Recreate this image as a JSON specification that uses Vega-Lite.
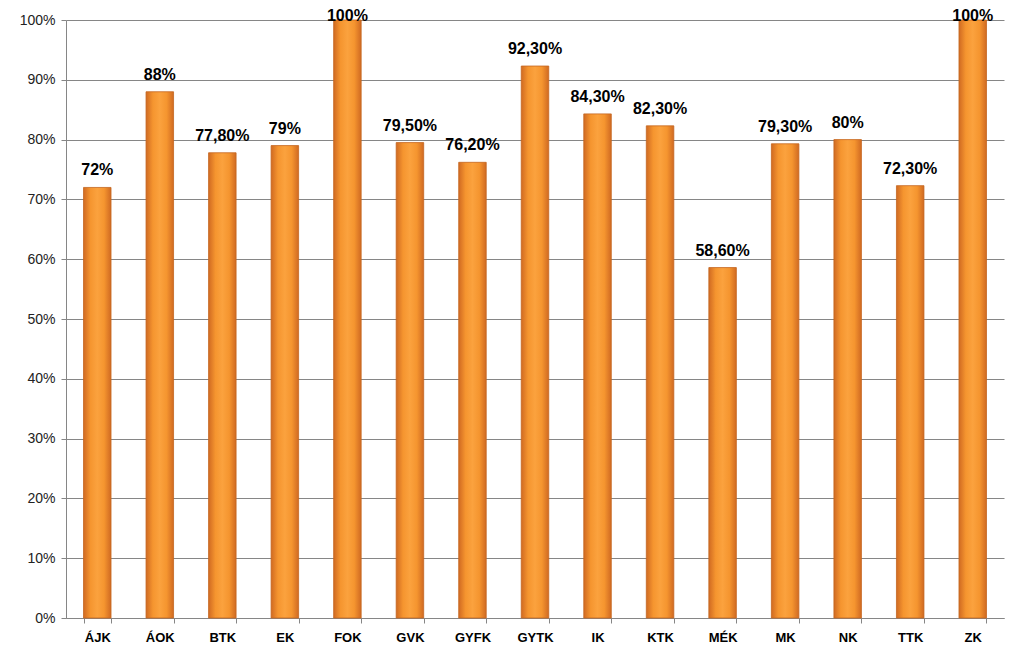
{
  "$schema": "https://vega.github.io/schema/vega-lite/v6.json",
  "autosize": {"type": "none"},
  "padding": {"left": 66, "top": 20, "right": 20, "bottom": 44},
  "width": 938,
  "height": 598,
  "background": "white",
  "config": {
    "view": {"stroke": null},
    "font": "Liberation Sans"
  },
  "data": {
    "values": [
      {"kar": "ÁJK", "value": 0.72, "label": "72%"},
      {"kar": "ÁOK", "value": 0.88, "label": "88%"},
      {"kar": "BTK", "value": 0.778, "label": "77,80%"},
      {"kar": "EK", "value": 0.79, "label": "79%"},
      {"kar": "FOK", "value": 1.0, "label": "100%"},
      {"kar": "GVK", "value": 0.795, "label": "79,50%"},
      {"kar": "GYFK", "value": 0.762, "label": "76,20%"},
      {"kar": "GYTK", "value": 0.923, "label": "92,30%"},
      {"kar": "IK", "value": 0.843, "label": "84,30%"},
      {"kar": "KTK", "value": 0.823, "label": "82,30%"},
      {"kar": "MÉK", "value": 0.586, "label": "58,60%"},
      {"kar": "MK", "value": 0.793, "label": "79,30%"},
      {"kar": "NK", "value": 0.8, "label": "80%"},
      {"kar": "TTK", "value": 0.723, "label": "72,30%"},
      {"kar": "ZK", "value": 1.0, "label": "100%"}
    ]
  },
  "encoding": {
    "x": {
      "field": "kar", "type": "nominal", "sort": null,
      "scale": {"paddingInner": 0.56, "paddingOuter": 0.28},
      "axis": {
        "title": null, "labelAngle": 0, "labelFontWeight": "bold", "labelFontSize": 13,
        "labelColor": "#000", "labelPadding": 8, "tickBand": "extent", "tickSize": 5,
        "tickColor": "#868686", "domainColor": "#868686"
      }
    }
  },
  "layer": [
    {
      "mark": {
        "type": "bar",
        "stroke": "#C4661F", "strokeWidth": 0.8,
        "color": {
          "gradient": "linear", "x1": 0, "y1": 0, "x2": 1, "y2": 0,
          "stops": [
            {"offset": 0, "color": "#D06A22"},
            {"offset": 0.25, "color": "#F5952F"},
            {"offset": 0.5, "color": "#FBA23E"},
            {"offset": 0.75, "color": "#F5952F"},
            {"offset": 1, "color": "#D06A22"}
          ]
        }
      },
      "encoding": {
        "y": {
          "field": "value", "type": "quantitative",
          "scale": {"domain": [0, 1], "nice": false},
          "axis": {
            "title": null, "format": ".0%", "values": [0, 0.1, 0.2, 0.3, 0.4, 0.5, 0.6, 0.7, 0.8, 0.9, 1.0],
            "labelFontSize": 14, "labelColor": "#222", "labelPadding": 6, "tickSize": 5,
            "tickColor": "#868686", "domainColor": "#868686",
            "gridColor": "#868686", "gridWidth": 1
          }
        }
      }
    },
    {
      "transform": [{"calculate": "min(datum.value, 0.978)", "as": "labelY"}],
      "mark": {"type": "text", "baseline": "middle", "dy": -17, "fontWeight": "bold", "fontSize": 16, "color": "#000"},
      "encoding": {
        "y": {"field": "labelY", "type": "quantitative", "scale": {"domain": [0, 1], "nice": false}},
        "text": {"field": "label"}
      }
    }
  ]
}
